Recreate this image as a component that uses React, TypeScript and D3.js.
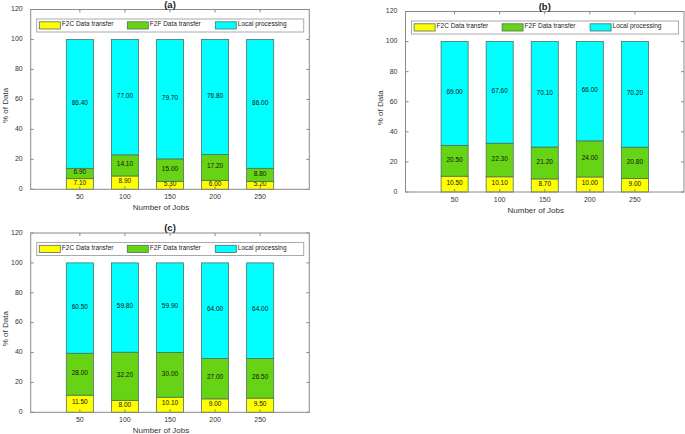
import React, { useEffect, useRef } from "react";
import * as d3 from "d3";

const JOBS = ["50", "100", "150", "200", "250"];
const SERIES = ["F2C Data transfer", "F2F Data transfer", "Local processing"];
const COLORS = ["#ffff00", "#66d414", "#00ffff"];
const Y_TICKS = [0, 20, 40, 60, 80, 100, 120];

const f2cA = [7.1, 8.9, 5.3, 6.0, 5.2];
const f2fA = [6.9, 14.1, 15.0, 17.2, 8.8];
const localA = [86.4, 77.0, 79.7, 76.8, 86.0];

const f2cB = [10.5, 10.1, 8.7, 10.0, 9.0];
const f2fB = [20.5, 22.3, 21.2, 24.0, 20.8];
const localB = [69.0, 67.6, 70.1, 66.0, 70.2];

const f2cC = [11.5, 8.0, 10.1, 9.0, 9.5];
const f2fC = [28.0, 32.2, 30.0, 27.0, 26.5];
const localC = [60.5, 59.8, 59.9, 64.0, 64.0];

const FONT = "'Liberation Sans', Arial, sans-serif";
const FRAME = "#8a8a8a";

type PanelProps = {
  title: string;
  left: number;
  right: number;
  top: number;
  bottom: number;
  f2c: number[];
  f2f: number[];
  local: number[];
};

const draw = (
  svg: d3.Selection<SVGSVGElement, unknown, null, undefined>,
  p: PanelProps
) => {
  const g = svg.append("g");
  const w = p.right - p.left;

  const x = d3
    .scaleBand()
    .domain(JOBS)
    .range([p.left, p.right])
    .paddingInner(0.4)
    .paddingOuter(0.79);
  const y = d3.scaleLinear().domain([0, 120]).range([p.bottom, p.top]);

  const rows = JOBS.map((j, i) => ({
    job: j,
    f2c: p.f2c[i],
    f2f: p.f2f[i],
    local: p.local[i],
  }));
  const stack = d3.stack<any>().keys(["f2c", "f2f", "local"]);
  const layers = stack(rows);

  // bars
  layers.forEach((layer, li) => {
    g.selectAll(null)
      .data(layer)
      .enter()
      .append("rect")
      .attr("x", (d: any) => x(d.data.job)!)
      .attr("width", x.bandwidth())
      .attr("y", (d) => y(Math.min(100, d[1])))
      .attr("height", (d) => y(d[0]) - y(Math.min(100, d[1])))
      .attr("fill", COLORS[li])
      .attr("stroke", "#4f6f5f")
      .attr("stroke-width", 0.8);

    g.selectAll(null)
      .data(layer)
      .enter()
      .append("text")
      .attr("x", (d: any) => x(d.data.job)! + x.bandwidth() / 2)
      .attr("y", (d) => y((d[0] + Math.min(100, d[1])) / 2) - 1)
      .attr("text-anchor", "middle")
      .attr("dominant-baseline", "middle")
      .attr("font-family", FONT)
      .attr("font-size", 6.5)
      .attr("fill", "#111")
      .text((d) => (d[1] - d[0]).toFixed(2));
  });

  // frame
  g.append("rect")
    .attr("x", p.left)
    .attr("y", p.top)
    .attr("width", w)
    .attr("height", p.bottom - p.top)
    .attr("fill", "none")
    .attr("stroke", FRAME)
    .attr("stroke-width", 1);

  // inward ticks on all sides
  JOBS.forEach((j) => {
    const cx = x(j)! + x.bandwidth() / 2;
    g.append("line")
      .attr("x1", cx).attr("x2", cx)
      .attr("y1", p.bottom).attr("y2", p.bottom - 3)
      .attr("stroke", FRAME);
    g.append("line")
      .attr("x1", cx).attr("x2", cx)
      .attr("y1", p.top).attr("y2", p.top + 3)
      .attr("stroke", FRAME);
    g.append("text")
      .attr("x", cx)
      .attr("y", p.bottom + 10)
      .attr("text-anchor", "middle")
      .attr("font-family", FONT)
      .attr("font-size", 7)
      .attr("fill", "#333")
      .text(j);
  });
  Y_TICKS.forEach((t) => {
    const ty = y(t);
    g.append("line")
      .attr("x1", p.left).attr("x2", p.left + 3)
      .attr("y1", ty).attr("y2", ty)
      .attr("stroke", FRAME);
    g.append("line")
      .attr("x1", p.right).attr("x2", p.right - 3)
      .attr("y1", ty).attr("y2", ty)
      .attr("stroke", FRAME);
    g.append("text")
      .attr("x", p.left - 8)
      .attr("y", ty)
      .attr("text-anchor", "end")
      .attr("dominant-baseline", "middle")
      .attr("font-family", FONT)
      .attr("font-size", 7)
      .attr("fill", "#333")
      .text(t);
  });

  // titles
  g.append("text")
    .attr("x", p.left + w / 2)
    .attr("y", p.top - 2)
    .attr("text-anchor", "middle")
    .attr("font-family", FONT)
    .attr("font-weight", "bold")
    .attr("font-size", 9.5)
    .attr("fill", "#222")
    .text(p.title);

  g.append("text")
    .attr("x", p.left + w / 2 - 9)
    .attr("y", p.bottom + 20.5)
    .attr("text-anchor", "middle")
    .attr("font-family", FONT)
    .attr("font-size", 8)
    .attr("fill", "#333")
    .text("Number of Jobs");

  const midY = (p.top + p.bottom) / 2 + 6;
  g.append("text")
    .attr("transform", `translate(${p.left - 22.5},${midY}) rotate(-90)`)
    .attr("text-anchor", "middle")
    .attr("font-family", FONT)
    .attr("font-size", 8)
    .attr("fill", "#333")
    .text("% of Data");

  // legend
  const lx = p.left + 6;
  const ly = p.top + 9.5;
  g.append("rect")
    .attr("x", lx)
    .attr("y", ly)
    .attr("width", 267)
    .attr("height", 13)
    .attr("fill", "white")
    .attr("stroke", "#aaa")
    .attr("stroke-width", 1);
  SERIES.forEach((s, i) => {
    const sx = lx + 2.6 + i * 88;
    g.append("rect")
      .attr("x", sx)
      .attr("y", ly + 2.8)
      .attr("width", 21)
      .attr("height", 7.2)
      .attr("fill", COLORS[i])
      .attr("stroke", "#4f6f5f")
      .attr("stroke-width", 0.8);
    g.append("text")
      .attr("x", sx + 22.5)
      .attr("y", ly + 5.5)
      .attr("dominant-baseline", "middle")
      .attr("font-family", FONT)
      .attr("font-size", 6.5)
      .attr("fill", "#222")
      .text(s);
  });
};

const App: React.FC = () => {
  const svgRef = useRef<SVGSVGElement | null>(null);

  useEffect(() => {
    const el = svgRef.current;
    if (!el) return;
    const svg = d3.select(el);
    svg.selectAll("*").remove();

    draw(svg, { title: "(a)", left: 30.7, right: 309.3, top: 9.5, bottom: 189.3, f2c: f2cA, f2f: f2fA, local: localA });
    draw(svg, { title: "(b)", left: 405.5, right: 684, top: 11.5, bottom: 192, f2c: f2cB, f2f: f2fB, local: localB });
    draw(svg, { title: "(c)", left: 30.7, right: 309.3, top: 233, bottom: 412.3, f2c: f2cC, f2f: f2fC, local: localC });
  }, []);

  return (
    <svg
      ref={svgRef}
      width={685}
      height={434}
      style={{ position: "absolute", left: 0, top: 0, background: "white" }}
    />
  );
};

export default App;
